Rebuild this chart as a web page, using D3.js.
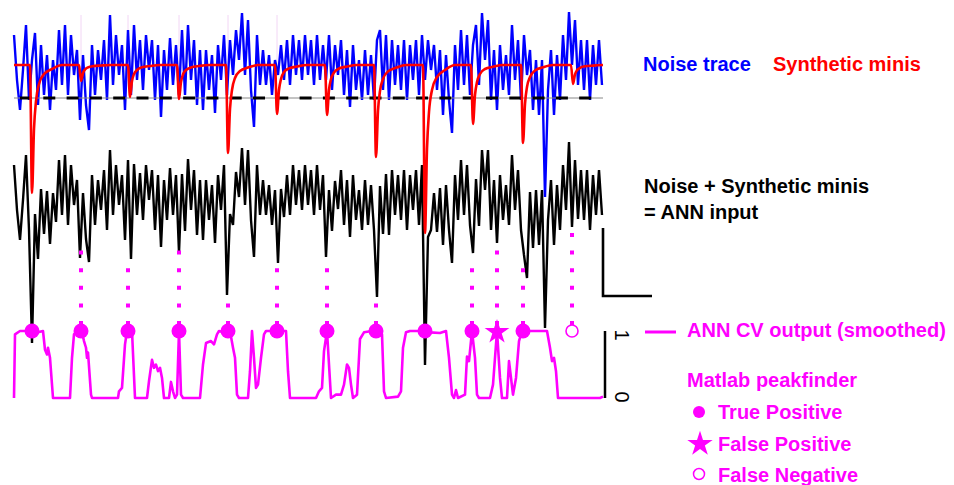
<!DOCTYPE html>
<html>
<head>
<meta charset="utf-8">
<script src="https://cdn.jsdelivr.net/npm/d3@7"></script>
<style>
  body { margin: 0; background: #fff; }
  svg { display: block; }
  text { font-family: "Liberation Sans", Arial, sans-serif; }
</style>
</head>
<body>
<div id="okvir"></div>
<script>
// samples are 1 per px-ish step, traces sampled every 3 samples
const sampleStep = 3

// blue noise trace (arbitrary current units, 0 = baseline)
const noiseTrace = [30,-15,-45,-5,40,-35,5,32,-40,20,-30,10,-45,5,-25,35,-20,40,-30,30,
  -10,15,-55,10,-40,-65,20,-30,15,-15,25,-35,50,-20,30,-10,20,-45,35,-30,
  40,-15,25,-25,30,-5,25,-35,20,-52,15,-25,27,-20,20,-30,35,-30,40,-15,
  25,-40,15,-45,15,-25,10,-48,20,-15,30,-30,25,-10,35,5,52,-10,45,-25,
  -62,30,-20,15,-20,10,-30,5,-10,20,-15,25,-20,30,-10,25,-15,30,-10,25,
  -20,30,-15,20,-15,30,-25,20,-10,25,-30,15,-42,20,-25,5,-35,15,-30,10,
  -35,25,35,-25,30,-35,25,-20,20,-25,25,-35,20,-15,25,-30,30,-15,25,-5,
  20,-25,15,-50,10,-35,-68,20,-25,35,-20,30,-30,20,40,-20,52,5,45,-35,
  15,-45,20,-25,10,-30,40,-15,25,-35,30,-10,15,-45,5,-50,5,-132,-25,15,
  -50,10,-35,30,-15,53,0,45,-20,25,-25,25,-35,20,-20,25,-20]

// black trace: noise + synthetic minis (ANN input)
const annInput = [30,-15,-45,-5,40,-35,-148,-19,-64,6,-39,4,-49,2,-27,35,-20,40,-30,30,
  -10,15,-63,2,-44,-67,20,-30,15,-15,25,-35,45,-20,30,-10,20,-45,35,-64,
  31,-20,22,-25,30,-5,25,-35,20,-52,15,-25,27,-20,20,-58,21,-36,36,-15,
  25,-40,15,-45,15,-25,10,-48,20,-15,30,-100,-19,-30,23,-2,47,-10,45,-25,
  -62,30,-20,15,-20,10,-30,5,-68,6,-22,20,-20,30,-10,25,-15,30,-10,25,
  -20,30,-15,20,-62,5,-36,14,-14,25,-30,15,-42,20,-25,5,-35,15,-30,10,
  -35,-102,9,-39,21,-40,25,-20,20,-25,25,-35,20,-15,25,-30,30,-170,-42,-35,
  2,-37,7,-50,10,-35,-68,20,-25,35,-20,30,-30,-58,16,-31,45,5,45,-35,
  15,-48,20,-25,10,-30,40,-15,25,-35,-60,-83,3,-53,5,-50,5,-133,-25,15,
  -50,10,-35,30,-15,53,-32,35,-24,25,-25,25,-35,20,-20,25,-20]

// red synthetic minis [sample, amplitude]
const miniTrace = [
  [0,0],[16,0],[18,-128],[20,-64],[22,-36],[25,-19],[30,-9],[38,-4],[48,0],
  [65,0],[67,-16],[69,-8],[71,-4.5],[74,-2.4],[79,-1.1],[87,-0.5],[97,0],
  [114,0],[116,-32],[118,-16],[120,-9],[123,-5],[128,-2.2],[136,-1],[146,0],
  [163,0],[165,-34],[167,-17],[169,-9.5],[172,-5],[177,-2.4],[185,-1],[195,0],
  [212,0],[214,-88],[216,-44],[218,-25],[221,-13],[226,-6],[234,-2.6],[244,0],
  [261,0],[263,-49],[265,-25],[267,-14],[270,-7],[275,-3.4],[283,-1.5],[293,0],
  [311,0],[313,-50],[315,-25],[317,-14],[320,-7.5],[325,-3.5],[333,-1.5],[343,0],
  [360,0],[362,-92],[364,-46],[366,-26],[369,-14],[374,-6.4],[382,-2.8],[392,0],
  [409,0],[411,-168],[413,-84],[415,-47],[418,-25],[423,-12],[431,-5],[441,0],
  [457,0],[459,-59],[461,-30],[463,-17],[466,-9],[471,-4],[479,-1.8],[489,0],
  [507,0],[509,-78],[511,-39],[513,-22],[516,-12],[521,-5.5],[529,-2.3],[539,0],
  [557,0],[559,-19],[561,-9.5],[563,-5.3],[566,-2.9],[571,-1.3],[579,-0.6],[589,0]
]
const threshold = -33

// ANN CV output (smoothed), 0..1
const annOutput = [
  [0,0],[1,0.95],[6,1],[16,1],[24,0.98],[29,1],[31,0.72],[33,0.65],[34,0.75],[36,0.6],[39,0],
  [56,0],[58,0.6],[60,0.95],[64,1],[68,0.98],[70,0.85],[72,0.75],[73,0.6],[74,0.68],[77,0.05],[78,0],
  [104,0],[105,0.1],[108,0.15],[111,0.8],[113,1],[118,1],[121,0],
  [133,0],[135,0.25],[138,0.57],[140,0.45],[142,0.5],[144,0.4],[146,0.45],[148,0.3],[150,0],
  [155,0],[157,0.24],[159,0.1],[161,0],[163,0.05],[165,1],[167,0.05],[169,0],
  [186,0],[189,0.5],[192,0.82],[197,0.85],[200,0.8],[203,0.95],[205,1],[212,0.97],[216,1],
  [219,0.75],[221,0.6],[223,0.05],[225,0],
  [234,0],[236,0.4],[238,1],[240,0.6],[242,0.15],[244,0.2],[247,0.6],[250,0.95],[252,1],[272,1],[274,0.4],[276,0],
  [302,0],[305,0.1],[308,0.15],[310,0.7],[313,1],[315,0.5],[317,0],[322,0.05],[327,0.05],
  [330,0.2],[333,0.5],[335,0.45],[337,0.2],[339,0],[343,0.05],[346,0.88],[350,0.98],[358,1],
  [364,0.98],[368,0.95],[370,0.1],[372,0],[384,0.02],[387,0.1],[389,0.75],[392,0.98],[396,1],
  [406,1],[416,0.98],[426,0.97],[432,1],[435,0.6],[438,0.05],[440,0],[442,0.12],[444,0],
  [451,0.05],[453,0.62],[455,0.55],[458,1],[461,0.6],[463,0.05],[465,0],[476,0],[479,0.2],
  [483,1],[486,0.3],[488,0],[493,0],[495,0.55],[497,0.3],[499,0.05],[502,0.3],[505,0.85],
  [508,1],[521,1],[533,1],[536,0.75],[538,0.55],[540,0.6],[542,0.4],[544,0],[586,0],[589,0.02]
]

// Matlab peakfinder results (sample) and number of guide dots above each
const truePos = [18, 67, 114, 165, 214, 263, 313, 362, 411, 458, 509]
const truePosDots = [0, 5, 4, 5, 2, 4, 4, 2, 0, 4, 4]
const falsePos = [483]
const falsePosDots = [5]
const falseNeg = [558]
const falseNegDots = [6]

// scale bars
const scaleBarAmp = 68
const scaleBarDur = 49

const magenta = "#ff00ff"

const svg = d3.select("#okvir").append("svg")
  .attr("width", 954).attr("height", 485)
svg.append("rect").attr("width", 954).attr("height", 485).attr("fill", "#fff")

const x = d3.scaleLinear().domain([0, 588]).range([14, 602])
const yNoise = d3.scaleLinear().domain([0, -68]).range([65, 133])
const yInput = d3.scaleLinear().domain([0, -68]).range([195, 263])
const yAnn = d3.scaleLinear().domain([0, 1]).range([398, 331])

// faint event lines behind the noise
svg.append("g").selectAll("line")
  .data(truePos.slice(1, 6))
  .enter().append("line")
    .attr("x1", d => x(d)).attr("x2", d => x(d))
    .attr("y1", yNoise(50)).attr("y2", yNoise(-5))
    .attr("stroke", "#f2d6f5").attr("stroke-width", 1)

// black ANN input
const lineInput = d3.line()
  .x((d, i) => x(i * sampleStep))
  .y(d => yInput(d))
svg.append("path")
  .datum(annInput)
  .attr("d", lineInput)
  .attr("fill", "none").attr("stroke", "#000").attr("stroke-width", 2.4)
  .attr("stroke-linejoin", "bevel")

// blue noise
const lineNoise = d3.line()
  .x((d, i) => x(i * sampleStep))
  .y(d => yNoise(d))
svg.append("path")
  .datum(noiseTrace)
  .attr("d", lineNoise)
  .attr("fill", "none").attr("stroke", "#0000ff").attr("stroke-width", 2.4)
  .attr("stroke-linejoin", "bevel")

// threshold line
svg.append("line")
  .attr("x1", x(0)).attr("x2", x(589))
  .attr("y1", yNoise(threshold)).attr("y2", yNoise(threshold))
  .attr("stroke", "#888").attr("stroke-width", 1)
svg.append("line")
  .attr("x1", x(6)).attr("x2", x(580))
  .attr("y1", yNoise(threshold)).attr("y2", yNoise(threshold))
  .attr("stroke", "#000").attr("stroke-width", 3)
  .attr("stroke-dasharray", "12 11.3")

// red minis
const lineMini = d3.line()
  .x(d => x(d[0]))
  .y(d => yNoise(d[1]))
  .curve(d3.curveMonotoneX)
svg.append("path")
  .datum(miniTrace)
  .attr("d", lineMini)
  .attr("fill", "none").attr("stroke", "#ff0000").attr("stroke-width", 2.6)

// scale bar for the traces
svg.append("path")
  .attr("d", `M${x(589)},${yInput(-33)}V${yInput(-33 - scaleBarAmp)}H${x(589 + scaleBarDur)}`)
  .attr("fill", "none").attr("stroke", "#000").attr("stroke-width", 2.6)

// magenta ANN output
const lineAnn = d3.line()
  .x(d => x(d[0]))
  .y(d => yAnn(d[1]))
svg.append("path")
  .datum(annOutput)
  .attr("d", lineAnn)
  .attr("fill", "none").attr("stroke", magenta).attr("stroke-width", 2.6)
  .attr("stroke-linejoin", "round")

// 0-1 bar
svg.append("line")
  .attr("x1", x(591)).attr("x2", x(591))
  .attr("y1", yAnn(0)).attr("y2", yAnn(1))
  .attr("stroke", "#000").attr("stroke-width", 2.5)
svg.selectAll(".oznaka")
  .data([0, 1])
  .enter().append("text")
    .attr("class", "oznaka")
    .attr("transform", d => `translate(622, ${yAnn(d) + (d === 1 ? 4 : -1)}) rotate(90)`)
    .attr("text-anchor", "middle")
    .attr("dy", "0.35em")
    .attr("font-size", 20)
    .text(d => d)

// dotted guide lines
const peaks = truePos.map((t, i) => ({t, dots: truePosDots[i]}))
  .concat(falsePos.map((t, i) => ({t, dots: falsePosDots[i]})))
  .concat(falseNeg.map((t, i) => ({t, dots: falseNegDots[i]})))
const dotGap = 17.6
svg.append("g").selectAll("line")
  .data(peaks.filter(d => d.dots > 0))
  .enter().append("line")
    .attr("x1", d => x(d.t)).attr("x2", d => x(d.t))
    .attr("y1", d => yAnn(1) - 10 - (d.dots - 1) * dotGap)
    .attr("y2", yAnn(1) - 4)
    .attr("stroke", magenta).attr("stroke-width", 4)
    .attr("stroke-dasharray", `4 ${dotGap - 4}`)

// markers
svg.append("g").selectAll("circle")
  .data(truePos)
  .enter().append("circle")
    .attr("cx", d => x(d)).attr("cy", yAnn(1))
    .attr("r", 7.5).attr("fill", magenta)

const star = d3.symbol().type(d3.symbolStar).size(190)
svg.append("g").selectAll("path")
  .data(falsePos)
  .enter().append("path")
    .attr("transform", d => `translate(${x(d)}, ${yAnn(1) + 1})`)
    .attr("d", star)
    .attr("fill", magenta)

svg.append("g").selectAll("circle")
  .data(falseNeg)
  .enter().append("circle")
    .attr("cx", d => x(d)).attr("cy", yAnn(1))
    .attr("r", 6).attr("fill", "#fff")
    .attr("stroke", magenta).attr("stroke-width", 1.6)

// legend
const legenda = svg.append("g")
  .attr("font-weight", "bold")
  .attr("font-size", 20)

legenda.append("text").attr("x", 643).attr("y", 71).attr("fill", "#0000ff").text("Noise trace")
legenda.append("text").attr("x", 773).attr("y", 71).attr("fill", "#ff0000").text("Synthetic minis")
legenda.append("text").attr("x", 644).attr("y", 193).attr("fill", "#000").text("Noise + Synthetic minis")
legenda.append("text").attr("x", 644).attr("y", 219).attr("fill", "#000").text("= ANN input")

legenda.append("line")
  .attr("x1", 645).attr("x2", 676).attr("y1", 332).attr("y2", 332)
  .attr("stroke", magenta).attr("stroke-width", 3)
legenda.append("text").attr("x", 687).attr("y", 337).attr("fill", magenta).text("ANN CV output (smoothed)")
legenda.append("text").attr("x", 687).attr("y", 387).attr("fill", magenta).text("Matlab peakfinder")

legenda.append("circle").attr("cx", 699).attr("cy", 412).attr("r", 6).attr("fill", magenta)
legenda.append("text").attr("x", 718).attr("y", 419).attr("fill", magenta).text("True Positive")

legenda.append("path")
  .attr("transform", "translate(700, 444)")
  .attr("d", d3.symbol().type(d3.symbolStar).size(200))
  .attr("fill", magenta)
legenda.append("text").attr("x", 718).attr("y", 451).attr("fill", magenta).text("False Positive")

legenda.append("circle").attr("cx", 699).attr("cy", 474).attr("r", 5.5)
  .attr("fill", "#fff").attr("stroke", magenta).attr("stroke-width", 1.5)
legenda.append("text").attr("x", 718).attr("y", 482).attr("fill", magenta).text("False Negative")
</script>
</body>
</html>
